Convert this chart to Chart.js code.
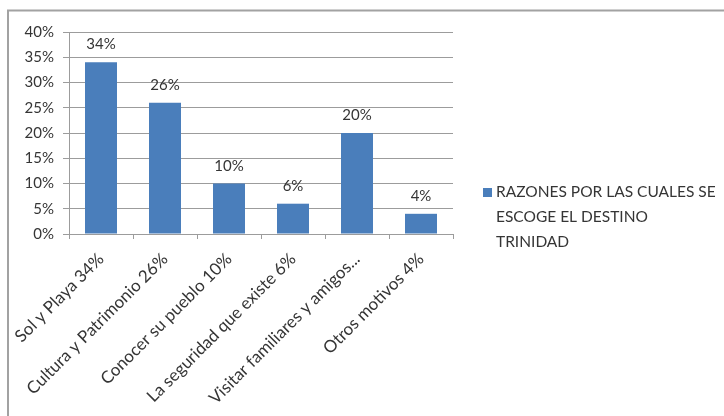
<!DOCTYPE html>
<html>
<head>
<meta charset="utf-8">
<script src="https://cdn.jsdelivr.net/npm/chart.js@4/dist/chart.umd.min.js"></script>
<style>
  html, body { margin: 0; padding: 0; background: #ffffff; }
  #wrap { position: relative; width: 724px; height: 416px; }
</style>
</head>
<body>
<div id="wrap"><canvas id="c" width="724" height="416"></canvas></div>
<script>
const categories = [
  "Sol y Playa 34%",
  "Cultura y Patrimonio 26%",
  "Conocer su pueblo 10%",
  "La seguridad que existe 6%",
  "Visitar familiares y amigos...",
  "Otros motivos 4%"
];
const values = [34, 26, 10, 6, 20, 4];
const seriesName = ["RAZONES POR LAS CUALES SE", "ESCOGE EL DESTINO", "TRINIDAD"];
const yTicks = { min: 0, max: 40, step: 5 };

const FONT = "Lato, 'Open Sans', sans-serif";
const TEXT = "#353535";
const BAR = "#4a7ebb";
const GRID = "#9c9c9c";

const framePlugin = {
  id: "frame",
  beforeDraw(chart) {
    const ctx = chart.ctx;
    ctx.save();
    ctx.strokeStyle = "#a2a2a2";
    ctx.lineWidth = 2;
    ctx.beginPath();
    ctx.moveTo(8, 416);
    ctx.lineTo(8, 10.5);
    ctx.lineTo(724, 10.5);
    ctx.stroke();
    ctx.restore();
  }
};

const valueLabels = {
  id: "valueLabels",
  afterDatasetsDraw(chart) {
    const ctx = chart.ctx;
    const meta = chart.getDatasetMeta(0);
    ctx.save();
    ctx.font = "15px " + FONT;
    ctx.fillStyle = TEXT;
    ctx.textAlign = "center";
    ctx.textBaseline = "alphabetic";
    meta.data.forEach((bar, i) => {
      ctx.fillText(values[i] + "%", bar.x, bar.y - 13);
    });
    ctx.restore();
  }
};

const sideLegend = {
  id: "sideLegend",
  afterDraw(chart) {
    const ctx = chart.ctx;
    ctx.save();
    ctx.fillStyle = BAR;
    ctx.fillRect(483, 188, 9, 9);
    ctx.font = "15.5px " + FONT;
    ctx.fillStyle = TEXT;
    ctx.textAlign = "left";
    ctx.textBaseline = "alphabetic";
    seriesName.forEach((line, i) => {
      ctx.fillText(line, 496, 197 + i * 25);
    });
    ctx.restore();
  }
};

new Chart(document.getElementById("c"), {
  type: "bar",
  data: {
    labels: categories,
    datasets: [{
      label: seriesName.join(" "),
      data: values,
      backgroundColor: BAR,
      borderWidth: 0,
      barPercentage: 0.5,
      categoryPercentage: 1.0
    }]
  },
  options: {
    responsive: false,
    animation: false,
    devicePixelRatio: 1,
    layout: { padding: { left: 0, right: 271, top: 32, bottom: 0 } },
    plugins: {
      legend: { display: false },
      tooltip: { enabled: false }
    },
    scales: {
      x: {
        grid: {
          display: true,
          drawOnChartArea: false,
          drawTicks: true,
          tickLength: 5,
          color: GRID,
          offset: true
        },
        border: { display: true, color: GRID, width: 1 },
        ticks: {
          font: { family: FONT, size: 17 },
          color: TEXT,
          maxRotation: 45,
          minRotation: 45,
          padding: 10,
          autoSkip: false
        },
        afterFit(scale) {
          scale.height = 182;
          scale.paddingLeft = 0;
          scale.paddingRight = 0;
        }
      },
      y: {
        min: yTicks.min,
        max: yTicks.max,
        grid: {
          color: GRID,
          drawTicks: true,
          tickLength: 6
        },
        border: { display: true, color: GRID, width: 1 },
        ticks: {
          stepSize: yTicks.step,
          font: { family: FONT, size: 15 },
          color: TEXT,
          padding: 9,
          callback: (v) => v + "%"
        },
        afterFit(scale) {
          scale.width = 69;
        }
      }
    }
  },
  plugins: [framePlugin, valueLabels, sideLegend]
});
</script>
</body>
</html>
